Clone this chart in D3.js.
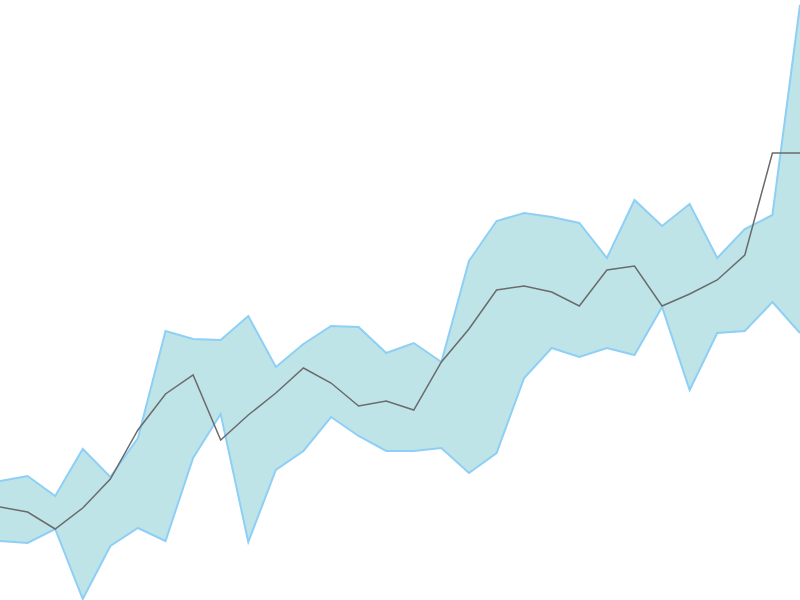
<!DOCTYPE html>
<html>
<head>
<meta charset="utf-8">
<script src="https://cdn.jsdelivr.net/npm/d3@7"></script>
<style>
    html, body { margin: 0; padding: 0; background: #fff; }
    svg { display: block; }
</style>
</head>
<body>
<svg id="chart"></svg>
<script>
// Band edges and middle line, one value per step
const steps = d3.range(30);
const bandA = [119, 124, 104, 151, 123, 162, 269, 261, 260, 284, 233, 256, 274, 273, 247,
               257, 238, 339, 379, 387, 383, 377, 342, 400, 374, 396, 342, 371, 385, 595];
const bandB = [59, 57, 71, 1, 54, 72, 59, 142, 186, 58, 130, 149, 183, 164, 149,
               149, 152, 127, 147, 222, 252, 243, 252, 245, 293, 210, 267, 269, 298, 267];
const middle = [93, 88, 71, 92, 121, 170, 206, 225, 160, 185, 207, 232, 217, 194, 199,
                190, 238, 271, 310, 314, 308, 294, 330, 334, 294, 306, 320, 345, 447, 447];

const width = 800;
const height = 600;

const svg = d3.select('#chart')
    .attr('width', width)
    .attr('height', height);

const x = d3.scaleLinear().domain([0, steps.length - 1]).range([0, width]);
const y = d3.scaleLinear().domain([0, 600]).range([height, 0]);

// Filled band between the two edges
const area = d3.area()
    .x(i => x(i))
    .y0(i => y(bandB[i]))
    .y1(i => y(bandA[i]));

svg.append('path')
    .datum(steps)
    .attr('d', area)
    .attr('fill', '#bee4e8');

const edge = series => d3.line()
    .x(i => x(i))
    .y(i => y(series[i]));

[bandA, bandB].forEach(s => {
    svg.append('path')
        .datum(steps)
        .attr('d', edge(s))
        .attr('fill', 'none')
        .attr('stroke', '#8ecff5')
        .attr('stroke-width', 2);
});

svg.append('path')
    .datum(steps)
    .attr('d', edge(middle))
    .attr('fill', 'none')
    .attr('stroke', '#6b6b6b')
    .attr('stroke-width', 1.5);
</script>
</body>
</html>
